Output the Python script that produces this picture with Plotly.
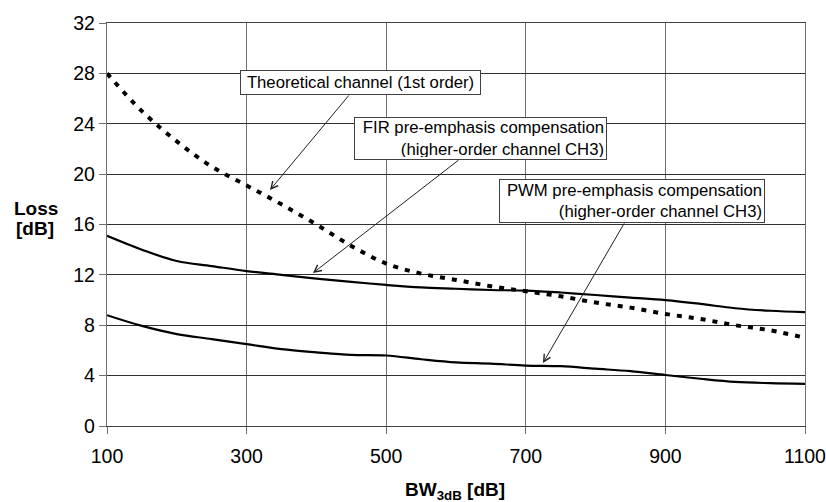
import plotly.graph_objects as go

bw = [100, 150, 200, 250, 300, 350, 400, 450, 500, 550, 600, 650, 700, 750, 800, 850, 900, 950, 1000, 1050, 1100]
theoretical = [28.0, 25.0, 22.6, 20.6, 19.1, 17.6, 16.0, 14.3, 12.9, 12.1, 11.6, 11.1, 10.7, 10.3, 9.8, 9.4, 8.9, 8.5, 8.0, 7.6, 7.0]
fir = [15.1, 14.0, 13.1, 12.7, 12.3, 12.0, 11.7, 11.45, 11.2, 11.0, 10.9, 10.8, 10.75, 10.6, 10.4, 10.2, 10.0, 9.7, 9.35, 9.15, 9.05]
pwm = [8.8, 7.95, 7.3, 6.9, 6.5, 6.1, 5.85, 5.65, 5.6, 5.3, 5.05, 4.95, 4.8, 4.75, 4.55, 4.35, 4.05, 3.75, 3.5, 3.4, 3.35]

x_ticks = [100, 300, 500, 700, 900, 1100]
y_ticks = [0, 4, 8, 12, 16, 20, 24, 28, 32]

FONT = "Liberation Sans, Arial, sans-serif"

fig = go.Figure()
fig.add_trace(go.Scatter(x=bw, y=theoretical, mode="lines", line=dict(color="black", width=4, dash="5px,7px", shape="spline"), name="Theoretical"))
fig.add_trace(go.Scatter(x=bw, y=fir, mode="lines", line=dict(color="black", width=2.2, shape="spline"), name="FIR"))
fig.add_trace(go.Scatter(x=bw, y=pwm, mode="lines", line=dict(color="black", width=2.2, shape="spline"), name="PWM"))

boxes = [
    dict(text="Theoretical channel (1st order)", x=463.2, y=27.26, w=243, h=23, align="center"),
    dict(text="FIR pre-emphasis compensation<br>(higher-order channel CH3)", x=635.1, y=22.82, w=255, h=41, align="right"),
    dict(text="PWM pre-emphasis compensation<br>(higher-order channel CH3)", x=852.1, y=17.86, w=268, h=42, align="right"),
]
ann = []
for b in boxes:
    ann.append(dict(text=b["text"], x=b["x"], y=b["y"], xref="x", yref="y", showarrow=False,
                    xanchor="center", yanchor="middle", align=b["align"],
                    width=b["w"] - 8, height=b["h"] - 4, borderpad=2, borderwidth=1,
                    bordercolor="#404040", bgcolor="white",
                    font=dict(family=FONT, size=16.7, color="black")))

arrows = [
    (333.5, 18.74, 448.1, 26.36),
    (395.1, 12.15, 605.7, 21.2),
    (724.6, 5.0, 842.1, 16.2),
]
for tx, ty, sx, sy in arrows:
    ann.append(dict(text="", x=tx, y=ty, ax=sx, ay=sy, xref="x", yref="y", axref="x", ayref="y",
                    showarrow=True, arrowhead=5, arrowsize=1.4, arrowwidth=1, arrowcolor="#202020", standoff=0))

ann.append(dict(text="<b>Loss</b>", xref="paper", yref="y", x=0, y=17.31, xshift=-71, xanchor="center",
                yanchor="middle", showarrow=False, font=dict(family=FONT, size=19, color="black")))
ann.append(dict(text="<b>[dB]</b>", xref="paper", yref="y", x=0, y=15.72, xshift=-72, xanchor="center",
                yanchor="middle", showarrow=False, font=dict(family=FONT, size=19, color="black")))
ann.append(dict(text="<b>BW<sub>3dB</sub> [dB]</b>", xref="paper", yref="paper", x=0.4986, y=0, yshift=-65,
                xanchor="center", yanchor="middle", showarrow=False, font=dict(family=FONT, size=19, color="black")))

fig.update_layout(
    width=826, height=502, autosize=False,
    margin=dict(l=107, r=21, t=23, b=76, autoexpand=False),
    paper_bgcolor="white", plot_bgcolor="white",
    showlegend=False,
    annotations=ann,
    font=dict(family=FONT, size=20, color="black"),
    xaxis=dict(range=[100, 1100], tickvals=x_ticks, ticktext=[str(v) for v in x_ticks],
               showgrid=True, gridcolor="#707070", gridwidth=1.3, zeroline=False,
               showline=True, linecolor="#404040", linewidth=1, mirror=True, automargin=False,
               ticks="outside", ticklen=7, tickcolor="#707070", ticklabeloverflow="allow",
               ticklabelstandoff=6,
               tickfont=dict(family=FONT, size=19.5)),
    yaxis=dict(range=[0, 32], tickvals=y_ticks, ticktext=[str(v) for v in y_ticks],
               showgrid=True, gridcolor="#303030", gridwidth=1, zeroline=False,
               showline=True, linecolor="#707070", linewidth=1.3, mirror=True, automargin=False,
               ticks="outside", ticklen=7, tickcolor="#707070", ticklabeloverflow="allow",
               tickfont=dict(family=FONT, size=19.5)),
)

fig.write_html(
    "out.html",
    config={"responsive": False, "displayModeBar": False},
    post_script="document.body.style.margin='0';document.body.style.padding='0';document.body.style.overflow='hidden';",
)
